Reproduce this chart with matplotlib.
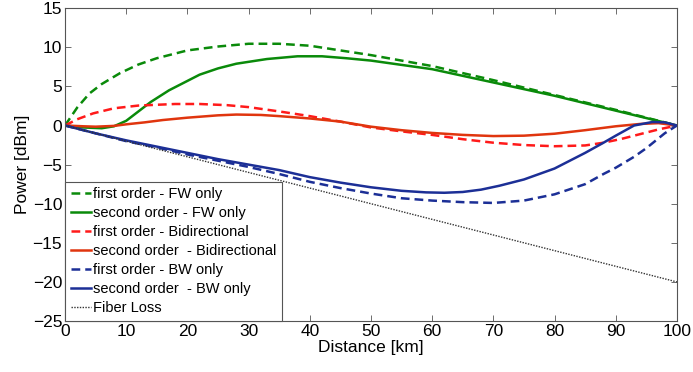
import matplotlib
matplotlib.use("Agg")
import matplotlib.pyplot as plt

plt.rcParams['font.family'] = ['Liberation Sans', 'DejaVu Sans']

# Distances (km) and power (dBm)
x_gd = [0, 2, 4, 6, 9, 12, 15, 20, 25, 30, 35, 40, 45, 50, 60, 70, 80, 90, 100]
y_gd = [0, 2.3, 4.1, 5.3, 6.7, 7.8, 8.6, 9.6, 10.1, 10.45, 10.45, 10.2, 9.6, 9.0, 7.6, 5.8, 3.9, 2.0, 0]

x_gs = [0, 3, 6, 8, 10, 12, 14, 17, 20, 22, 25, 28, 33, 38, 42, 46, 50, 60, 70, 80, 90, 100]
y_gs = [0, -0.25, -0.35, -0.1, 0.6, 1.8, 3.0, 4.5, 5.7, 6.5, 7.3, 7.9, 8.5, 8.85, 8.85, 8.6, 8.3, 7.2, 5.5, 3.8, 1.9, 0]

x_rd = [0, 2, 4.6, 8, 12, 18, 22, 26.5, 30, 35, 40, 45, 50, 55, 60, 65, 70, 75, 80, 85, 88, 91, 94, 97, 100]
y_rd = [0, 0.8, 1.55, 2.2, 2.55, 2.75, 2.75, 2.6, 2.35, 1.8, 1.2, 0.5, -0.25, -0.75, -1.2, -1.75, -2.2, -2.5, -2.65, -2.55, -2.2, -1.7, -1.1, -0.5, 0]

x_rs = [0, 3, 5, 8, 10, 13, 16, 20, 25, 28, 32, 35, 40, 45, 50, 55, 60, 65, 70, 75, 80, 85, 90, 94, 97, 100]
y_rs = [0, -0.1, -0.15, -0.05, 0.15, 0.4, 0.7, 1.0, 1.3, 1.4, 1.35, 1.2, 0.9, 0.5, -0.15, -0.6, -0.95, -1.2, -1.35, -1.3, -1.05, -0.6, -0.1, 0.2, 0.3, 0]

x_bd = [0, 5, 10, 15, 20, 25, 30, 35, 40, 45, 50, 55, 60, 65, 70, 75, 80, 85, 88, 90, 93, 95, 98, 100]
y_bd = [0, -1.0, -2.0, -2.8, -3.7, -4.5, -5.3, -6.2, -7.2, -8.0, -8.7, -9.3, -9.6, -9.8, -9.9, -9.6, -8.8, -7.5, -6.2, -5.4, -4.0, -2.9, -1.0, 0]

x_bs = [0, 5, 10, 15, 20, 25, 30, 35, 40, 45, 50, 55, 59, 62, 65, 68, 71, 75, 80, 85, 88, 90, 93, 96, 98, 100]
y_bs = [0, -1.0, -1.9, -2.7, -3.5, -4.3, -5.0, -5.7, -6.6, -7.3, -7.9, -8.35, -8.55, -8.6, -8.5, -8.2, -7.7, -6.9, -5.5, -3.5, -2.2, -1.3, 0.0, 0.45, 0.4, 0]

x_fl = [0, 100]
y_fl = [0, -20]

labels = ["first order - FW only", "second order - FW only",
          "first order - Bidirectional", "second order  - Bidirectional",
          "first order - BW only", "second order  - BW only", "Fiber Loss"]

xticks = list(range(0, 101, 10))
yticks = list(range(-25, 16, 5))

green = '#0a8a0a'
red_d = '#ff1a1a'
red_s = '#e0350e'
blue = '#1c2f96'

fig = plt.figure(figsize=(6.93, 3.72), dpi=100)
ax = fig.add_axes([0.0938, 0.137, 0.883, 0.841])

lw = 1.8
ax.plot(x_gd, y_gd, color=green, ls=(0, (3.5, 2)), lw=lw, label=labels[0])
ax.plot(x_gs, y_gs, color=green, ls='-', lw=lw, label=labels[1])
ax.plot(x_rd, y_rd, color=red_d, ls=(0, (3.5, 2)), lw=lw, label=labels[2])
ax.plot(x_rs, y_rs, color=red_s, ls='-', lw=lw, label=labels[3])
ax.plot(x_bd, y_bd, color=blue, ls=(0, (3.5, 2)), lw=lw, label=labels[4])
ax.plot(x_bs, y_bs, color=blue, ls='-', lw=lw, label=labels[5])
ax.plot(x_fl, y_fl, color='#333333', ls=(0, (1, 1)), lw=1.0, label=labels[6])

ax.set_xlim(0, 100)
ax.set_ylim(-25, 15)
ax.set_xticks(xticks)
ax.set_yticks(yticks)
ax.tick_params(direction='in', top=True, right=True, length=4, width=0.6,
               labelsize=12.5, colors='#555555', labelcolor='black', pad=2)
for s in ax.spines.values():
    s.set_color('#555555')
    s.set_linewidth(0.8)

ax.set_xlabel("Distance [km]", fontsize=12.5, labelpad=1)
ax.set_ylabel("Power [dBm]", fontsize=12.5, labelpad=2)

leg = ax.legend(loc='lower left', borderaxespad=0, fontsize=10.5,
                handlelength=1.35, handletextpad=0.15, labelspacing=0.34,
                borderpad=0.4, fancybox=False, framealpha=1)
leg.get_frame().set_edgecolor('#555555')
leg.get_frame().set_linewidth(0.8)

fig.savefig("out.png", dpi=100)
